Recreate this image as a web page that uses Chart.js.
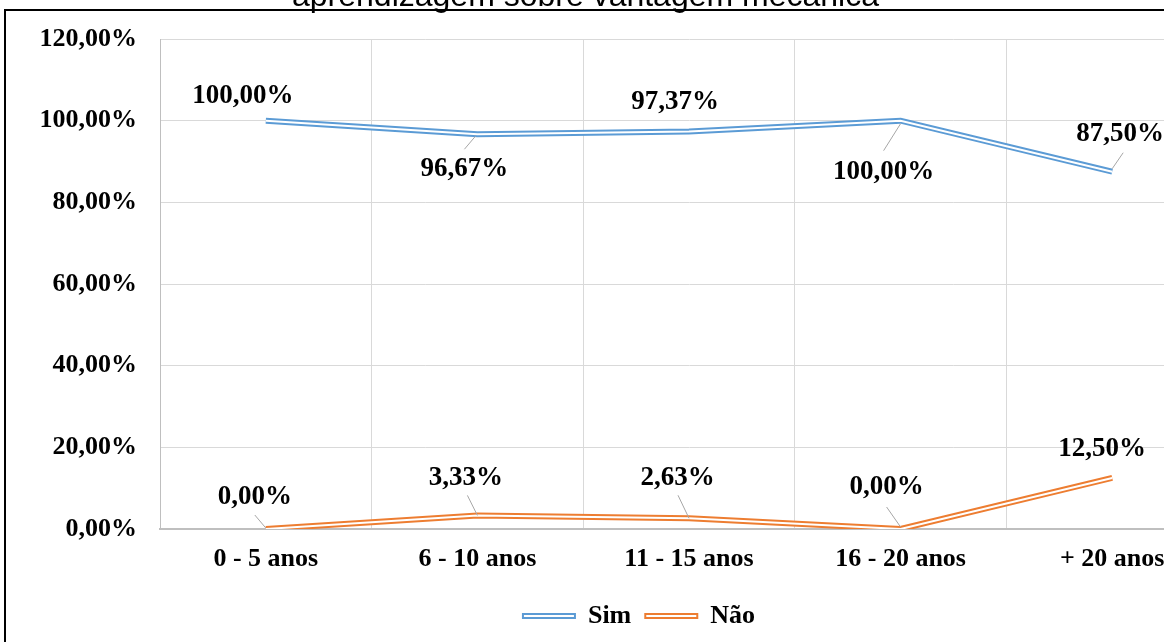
<!DOCTYPE html>
<html><head><meta charset="utf-8">
<script src="https://cdn.jsdelivr.net/npm/chart.js@4"></script>
<style>
html,body{margin:0;padding:0;background:#fff;overflow:hidden;width:1164px;height:642px;}
#wrap{position:relative;width:1164px;height:642px;overflow:hidden;}
#c{position:absolute;left:0;top:0;}
#title{position:absolute;left:0;width:1171px;top:-21px;text-align:center;font:32px/32px "Liberation Sans",Arial,sans-serif;color:#000;white-space:nowrap;}
#fl{position:absolute;left:4px;top:9px;width:2px;height:640px;background:#000;}
#ft{position:absolute;left:4px;top:9px;width:1200px;height:2px;background:#000;}
</style></head>
<body>
<div id="wrap">
<canvas id="c" width="1240" height="642"></canvas>
<div id="title">aprendizagem sobre vantagem mecânica</div>
<div id="fl"></div><div id="ft"></div>
</div>
<script>
const categories = ['0 - 5 anos', '6 - 10 anos', '11 - 15 anos', '16 - 20 anos', '+ 20 anos'];
const simValues = [100, 96.67, 97.37, 100, 87.5];
const naoValues = [0, 3.33, 2.63, 0, 12.5];
const yTicks = [0, 20, 40, 60, 80, 100, 120];
const seriesNames = ['Sim', 'Não'];
const seriesColors = ['#5b9bd5', '#ed7d31'];

const fmt = v => v.toFixed(2).replace('.', ',') + '%';
const SERIF = '"Liberation Serif", "Times New Roman", serif';

const labelOffsets = {
  'Sim': [
    {dx: -23, dy: -25},
    {dx: -13, dy: 34.5, lead: [-2, 2, -13, 15]},
    {dx: -14, dy: -29},
    {dx: -17, dy: 51, lead: [0, 3, -17, 30]},
    {dx: 8, dy: -38, lead: [0, -3, 11, -19]}
  ],
  'Não': [
    {dx: -11, dy: -32, lead: [0, -1, -11, -14]},
    {dx: -11.5, dy: -37.5, lead: [0, 0, -10, -20]},
    {dx: -11.5, dy: -40, lead: [0, 0, -11, -23]},
    {dx: -14, dy: -42, lead: [0, -2, -14, -22]},
    {dx: -10, dy: -29}
  ]
};

const pointLabels = {
  id: 'pointLabels',
  afterLayout(chart, args, opts) {
    if (chart.legend) { chart.legend.left = opts.legendLeft; }
  },
  afterDatasetsDraw(chart, args, opts) {
    const ctx = chart.ctx;
    chart.data.datasets.forEach((ds, i) => {
      if (ds.overlay) return;
      const offs = opts.offsets[ds.label];
      if (!offs) return;
      const meta = chart.getDatasetMeta(i);
      meta.data.forEach((pt, j) => {
        const o = offs[j];
        const x = pt.x, y = pt.y;
        if (o.lead) {
          ctx.save();
          ctx.strokeStyle = opts.leaderColor;
          ctx.lineWidth = 1;
          ctx.beginPath();
          ctx.moveTo(x + o.lead[0], y + o.lead[1]);
          ctx.lineTo(x + o.lead[2], y + o.lead[3]);
          ctx.stroke();
          ctx.restore();
        }
        ctx.save();
        ctx.font = opts.font;
        ctx.fillStyle = '#000';
        ctx.textAlign = 'center';
        ctx.textBaseline = 'middle';
        ctx.fillText(fmt(ds.data[j]), x + o.dx, y + o.dy);
        ctx.restore();
      });
    });
  }
};

const seriesData = [simValues, naoValues];
const datasets = [];
seriesNames.forEach((name, k) => {
  datasets.push({label: name, data: seriesData[k], borderColor: seriesColors[k], backgroundColor: seriesColors[k],
    borderWidth: 6, pointRadius: 0, tension: 0, order: 2});
});
seriesNames.forEach((name, k) => {
  datasets.push({label: name, overlay: true, data: seriesData[k], borderColor: '#ffffff', backgroundColor: '#ffffff',
    borderWidth: 2, pointRadius: 0, tension: 0, order: 1});
});

new Chart(document.getElementById('c'), {
  type: 'line',
  data: {labels: categories, datasets},
  plugins: [pointLabels],
  options: {
    responsive: false,
    animation: false,
    events: [],
    layout: {padding: {left: 0, right: 22, top: 39, bottom: 3}},
    scales: {
      x: {
        offset: true,
        grid: {offset: true, color: '#d9d9d9', lineWidth: 1, drawTicks: false},
        border: {display: true, color: '#bfbfbf', width: 2},
        ticks: {color: '#000', padding: 15, font: {family: SERIF, size: 26, weight: 'bold'}, maxRotation: 0, autoSkip: false},
        afterFit: s => { s.height = 60; }
      },
      y: {
        min: 0, max: 120,
        afterBuildTicks: s => { s.ticks = yTicks.map(v => ({value: v})); },
        grid: {color: '#d9d9d9', lineWidth: 1, drawTicks: false},
        border: {display: true, color: '#bfbfbf', width: 1},
        ticks: {color: '#000', padding: 23, font: {family: SERIF, size: 26, weight: 'bold'}, callback: v => fmt(v)},
        afterFit: s => { s.width = 160; }
      }
    },
    plugins: {
      title: {display: false},
      tooltip: {enabled: false},
      legend: {
        position: 'bottom',
        labels: {
          boxWidth: 52, boxHeight: 4, padding: 14, color: '#000',
          font: {family: SERIF, size: 26, weight: 'bold'},
          filter: (item, data) => !data.datasets[item.datasetIndex].overlay,
          generateLabels: chart => chart.data.datasets.map((ds, i) => ({
            text: ds.label, fillStyle: '#ffffff', strokeStyle: ds.borderColor, lineWidth: 2,
            hidden: false, datasetIndex: i, fontColor: '#000'
          }))
        }
      },
      pointLabels: {offsets: labelOffsets, leaderColor: '#a6a6a6', font: 'bold 27px ' + SERIF, legendLeft: 60}
    }
  }
});
</script>
</body></html>
